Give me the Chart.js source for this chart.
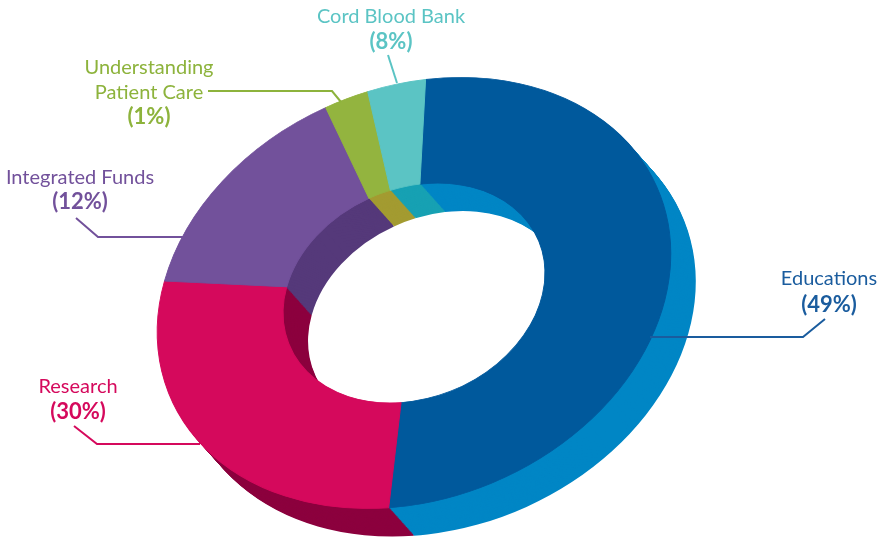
<!DOCTYPE html>
<html><head><meta charset="utf-8">
<style>html,body{margin:0;padding:0;background:#fff;}#wrap{width:883px;height:540px;position:relative;}</style>
<script src="https://cdn.jsdelivr.net/npm/chart.js@4"></script>
</head><body><div id="wrap"><canvas id="c" width="883" height="540"></canvas></div>
<script>
// ---- data ----
const categories = ['Educations', 'Research', 'Integrated Funds', 'Understanding Patient Care', 'Cord Blood Bank'];
const sliceValues = [50.8, 27.2, 15.6, 2.7, 3.6];          // slice sizes as drawn in the picture
const percentLabels = ['(49%)', '(30%)', '(12%)', '(1%)', '(8%)']; // printed labels
const labelLines = [['Educations'], ['Research'], ['Integrated Funds'], ['Understanding', 'Patient Care'], ['Cord Blood Bank']];

// ---- styles ----
const topColors  = ['#00599c', '#d5095c', '#72519b', '#93b43f', '#5bc4c4'];
const sideColors = ['#0086c5', '#8c003e', '#55397a', '#a39b31', '#17a1b3'];
const textColors = ['#1a5c9e', '#d5095c', '#72519b', '#8db33c', '#5bc4c4'];
const FONT = 'Lato';

// label layout: centre x, baselines of name lines, baseline of percent, leader polyline
const labelLayout = [
  {cx: 829, lines: [285], pct: 312, leader: [[825,319],[803,337],[650,337]]},
  {cx: 78,  lines: [393], pct: 419, leader: [[74,426],[97,444],[200,444]]},
  {cx: 80,  lines: [184], pct: 209, leader: [[76,218],[98,237],[186,237]]},
  {cx: 149, lines: [74, 99], pct: 124, leader: [[208,91],[332,91],[341,102]]},
  {cx: 391, lines: [23], pct: 49, leader: [[388,55],[397,83]]}
];

// view of the tilted ring
const view = {cx: 414, cy: 293, R: 265, k: 0.775, rot: -23 * Math.PI / 180, dx: 25, dy: 28, steps: 32};

function applyTransform(ctx, arc, ox, oy) {
  const s = view.R / arc.outerRadius;
  ctx.translate(view.cx + ox, view.cy + oy);
  ctx.rotate(view.rot);
  ctx.scale(s, s * view.k);
  ctx.translate(-arc.x, -arc.y);
}

const ring3d = {
  id: 'ring3d',
  beforeDatasetsDraw(chart) {
    const ctx = chart.ctx;
    const arcs = chart.getDatasetMeta(0).data;
    const a0 = arcs[0];
    for (let i = view.steps; i >= 1; i--) {
      const t = i / view.steps;
      ctx.save();
      applyTransform(ctx, a0, view.dx * t, view.dy * t);
      arcs.forEach((a, j) => {
        ctx.beginPath();
        ctx.arc(a.x, a.y, a.outerRadius, a.startAngle, a.endAngle);
        ctx.arc(a.x, a.y, a.innerRadius, a.endAngle, a.startAngle, true);
        ctx.closePath();
        ctx.fillStyle = sideColors[j];
        ctx.fill();
      });
      ctx.restore();
    }
    ctx.save();
    applyTransform(ctx, a0, 0, 0);
  },
  afterDatasetsDraw(chart) {
    chart.ctx.restore();
  },
  afterDraw(chart) {
    const ctx = chart.ctx;
    ctx.save();
    labelLayout.forEach((L, i) => {
      ctx.strokeStyle = textColors[i];
      ctx.lineWidth = 2;
      ctx.beginPath();
      L.leader.forEach((p, j) => j ? ctx.lineTo(p[0], p[1]) : ctx.moveTo(p[0], p[1]));
      ctx.stroke();
      ctx.fillStyle = textColors[i];
      ctx.textAlign = 'center';
      ctx.textBaseline = 'alphabetic';
      ctx.font = '20px ' + FONT;
      labelLines[i].forEach((txt, j) => ctx.fillText(txt, L.cx, L.lines[j]));
      ctx.font = 'bold 22px ' + FONT;
      ctx.fillText(percentLabels[i], L.cx, L.pct);
    });
    ctx.restore();
  }
};

new Chart(document.getElementById('c'), {
  type: 'doughnut',
  data: {
    labels: categories,
    datasets: [{
      data: sliceValues,
      backgroundColor: topColors,
      borderColor: topColors,
      borderWidth: 1,
      clip: false
    }]
  },
  options: {
    responsive: false,
    animation: false,
    events: [],
    cutout: '51%',
    rotation: 20.8,
    layout: {padding: 0},
    plugins: {legend: {display: false}, tooltip: {enabled: false}}
  },
  plugins: [ring3d]
});
</script></body></html>
